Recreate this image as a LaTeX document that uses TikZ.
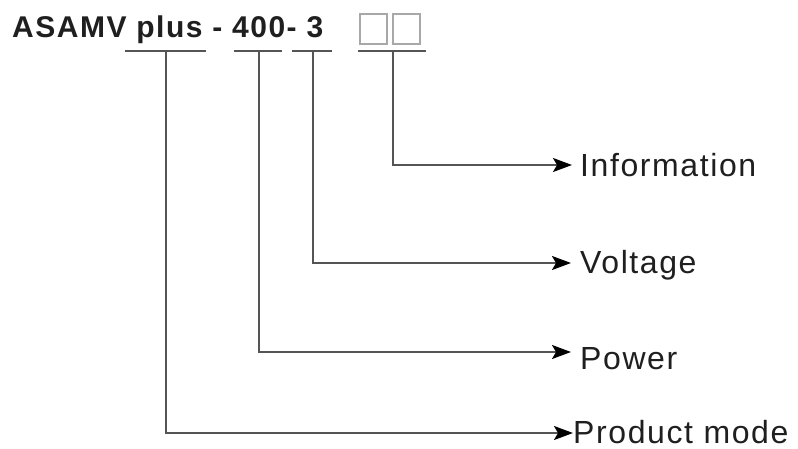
\documentclass[tikz,border=0pt]{standalone}
\usepackage{fontspec}
\setmainfont{Liberation Sans}
\newfontfamily\lblfont[LetterSpace=5]{Liberation Sans}
\newfontfamily\ttlfont[LetterSpace=5]{Liberation Sans}
\usetikzlibrary{arrows.meta}
\definecolor{linegray}{HTML}{555555}
\definecolor{boxgray}{HTML}{A8A8A8}
\begin{document}
\begin{tikzpicture}[x=1pt,y=-1pt,
  under/.style={draw=linegray,line width=1.8pt},
  conn/.style={draw=linegray,line width=1.8pt,-{Stealth[length=19pt,width=14pt,inset=4pt,black]}},
  lbl/.style={anchor=base west,inner sep=0pt,font=\lblfont\fontsize{32}{32}\selectfont,text=black!88},
  ttl/.style={anchor=base west,inner sep=0pt,font=\ttlfont\bfseries\fontsize{30}{30}\selectfont,text=black!88},
  sq/.style={draw=boxgray,line width=1.2pt}]
\useasboundingbox (0,0) rectangle (798,448);
\node[ttl] (title) at (12,37) {ASAMV plus - 400- 3};
\draw[sq] (360,14) rectangle (387,44);
\draw[sq] (393,14) rectangle (420,44);
% underlines
\draw[under] (125,51) -- (206,51);
\draw[under] (234,51) -- (282,51);
\draw[under] (292,51) -- (332,51);
\draw[under] (358,51) -- (426,51);
\coordinate (u1) at (166,51);
\coordinate (u2) at (259,51);
\coordinate (u3) at (313,51);
\coordinate (u4) at (393,51);
% labels
\node[lbl] (info) at (580,176) {Information};
\node[lbl] (volt) at (580,273) {Voltage};
\node[lbl] (pow) at (580,369) {Power};
\node[lbl] (prod) at (573,443) {Product mode};
\coordinate (e4) at (572,165);
\coordinate (e3) at (571,263);
\coordinate (e2) at (571,352);
\coordinate (e1) at (573,433);
\draw[conn] (u4) |- (e4);
\draw[conn] (u3) |- (e3);
\draw[conn] (u2) |- (e2);
\draw[conn] (u1) |- (e1);
\end{tikzpicture}
\end{document}
